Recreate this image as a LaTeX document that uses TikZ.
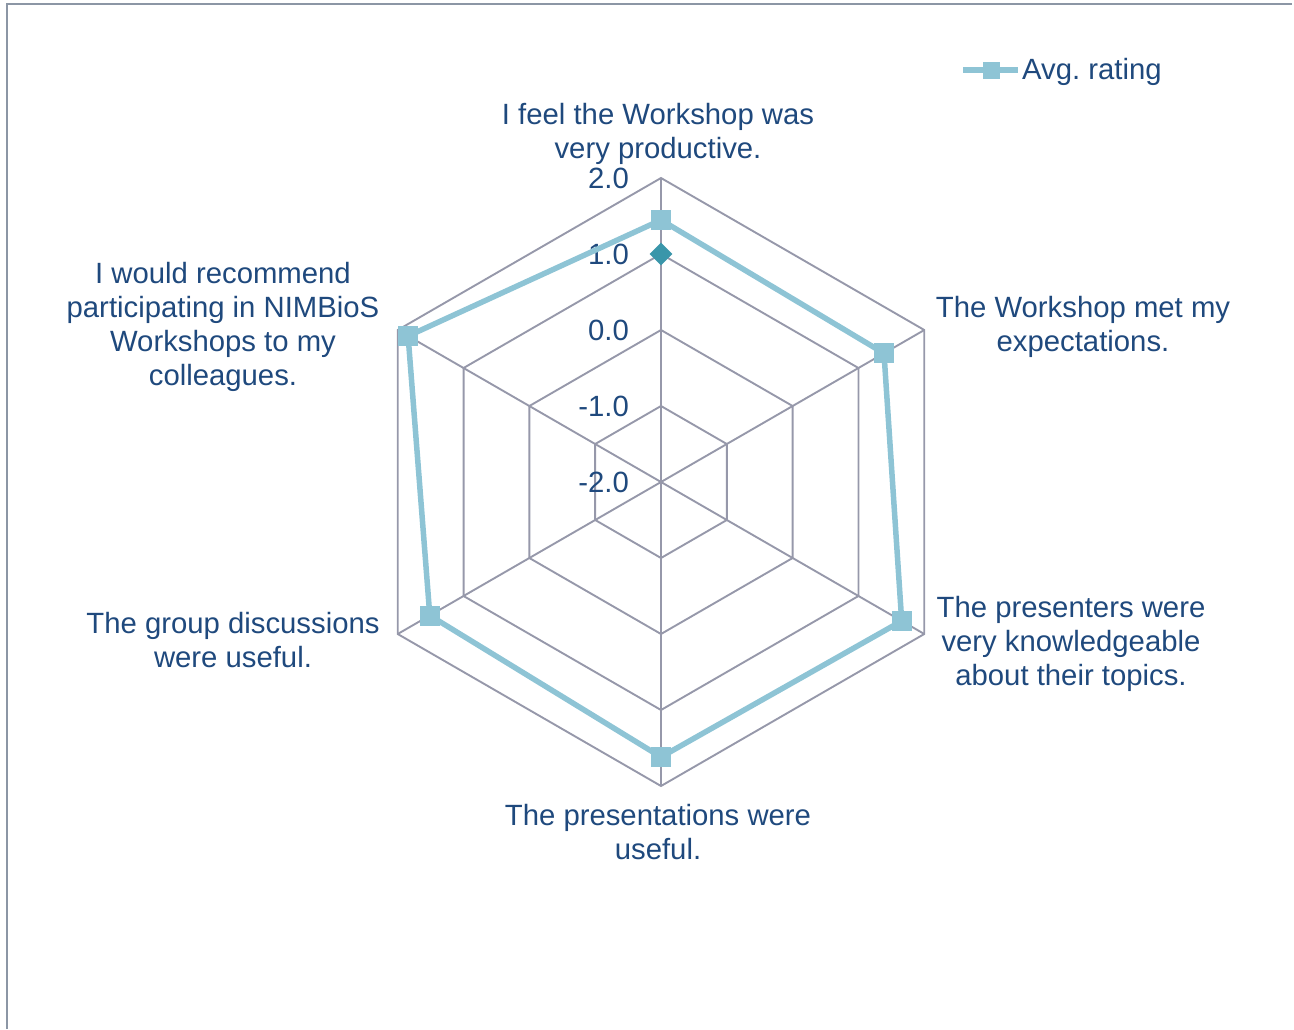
\documentclass[tikz,border=0pt]{standalone}
\usepackage{fontspec}
\setmainfont{Liberation Sans}
\usetikzlibrary{shapes.geometric}
\definecolor{txt}{RGB}{31,73,125}
\definecolor{gridc}{RGB}{150,152,170}
\definecolor{series}{RGB}{142,196,213}
\definecolor{markb}{RGB}{58,150,170}
\definecolor{framec}{RGB}{140,150,165}
\begin{document}
\begin{tikzpicture}[x=1pt,y=-1pt,
  lbl/.style={text=txt, font=\fontsize{29.3}{34}\selectfont, align=center, inner sep=0pt},
  axlbl/.style={text=txt, font=\fontsize{29.3}{34}\selectfont, anchor=east, inner sep=0pt},
  gridline/.style={draw=gridc, line width=1.9pt, line join=miter},
  seriesline/.style={draw=series, line width=5.5pt, line join=round},
  sqmark/.style={fill=series, rectangle, minimum size=20pt, inner sep=0pt},
  dmmark/.style={fill=markb, diamond, minimum width=23pt, minimum height=23pt, inner sep=0pt}]
\useasboundingbox (0,0) rectangle (1294,1029);
% frame
\draw[framec, line width=2.5pt] (7,1029) -- (7,4) -- (1292,4);
% grid rings
\foreach \r in {76,152,228,304}{
  \draw[gridline] (661,{482-\r}) -- ({661+0.866*\r},{482-0.5*\r}) -- ({661+0.866*\r},{482+0.5*\r})
    -- (661,{482+\r}) -- ({661-0.866*\r},{482+0.5*\r}) -- ({661-0.866*\r},{482-0.5*\r}) -- cycle;
}
% spokes
\coordinate (C) at (661,482);
\foreach \dx/\dy in {0/-304, 263.3/-152, 263.3/152, 0/304, -263.3/152, -263.3/-152}{
  \draw[gridline] (C) -- ({661+\dx},{482+\dy});
}
% axis labels
\node[axlbl] (a2) at (629,178) {2.0};
\node[axlbl] (a1) at (629,254) {1.0};
\node[axlbl] (a0) at (629,330) {0.0};
\node[axlbl] (am1) at (629,406) {-1.0};
\node[axlbl] (am2) at (629,482) {-2.0};
% series
\coordinate (p1) at (661,220);
\coordinate (p2) at (884,353.3);
\coordinate (p3) at (901.7,621);
\coordinate (p4) at (661,757);
\coordinate (p5) at (429.8,615.5);
\coordinate (p6) at (408.1,336);
\draw[seriesline] (p1) -- (p2) -- (p3) -- (p4) -- (p5) -- (p6) -- cycle;
\foreach \i in {1,...,6}{ \node[sqmark] (m\i) at (p\i) {}; }
\node[dmmark] (d1) at (661,254) {};
% category labels
\node[lbl] (t1) at (658,133.5) {I feel the Workshop was\\very productive.};
\node[lbl] (t2) at (1083,326.5) {The Workshop met my\\expectations.};
\node[lbl] (t3) at (1071,643.5) {The presenters were\\very knowledgeable\\about their topics.};
\node[lbl] (t4) at (658,832.5) {The presentations were\\useful.};
\node[lbl] (t5) at (233,640.5) {The group discussions\\were useful.};
\node[lbl] (t6) at (223,326.5) {I would recommend\\participating in NIMBioS\\Workshops to my\\colleagues.};
% legend
\coordinate (l1) at (963,70);
\coordinate (l2) at (1018,70);
\draw[seriesline] (l1) -- (l2);
\node[sqmark, minimum size=17pt] (lm) at (991,70) {};
\node[text=txt, font=\fontsize{29.3}{34}\selectfont, anchor=base west, inner sep=0pt] (lt) at (1022,79) {Avg.\ rating};
\end{tikzpicture}
\end{document}
